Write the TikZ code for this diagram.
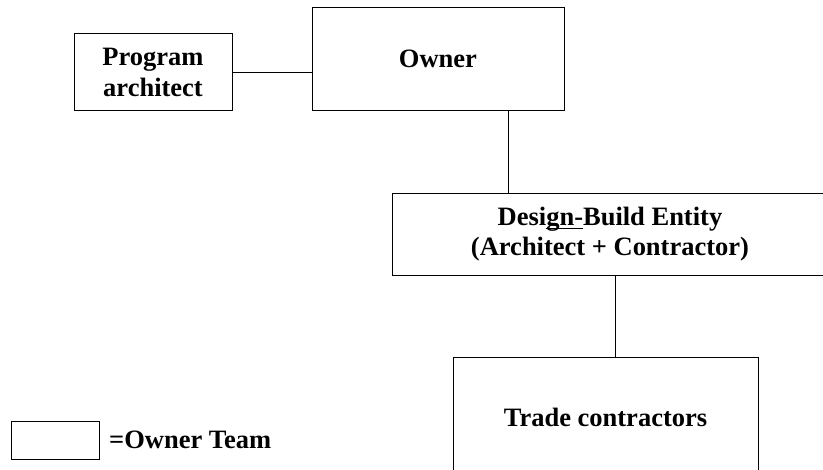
\documentclass[tikz,border=0pt]{standalone}
\usepackage{fontspec}
\setmainfont{Liberation Serif}
% underline drawn just under the baseline, through descenders
\newcommand\lowul[1]{\leavevmode\setbox0\hbox{#1}\rlap{\rule[-4pt]{\wd0}{1.1pt}}\box0}
\begin{document}
\begin{tikzpicture}[x=1pt,y=-1pt,
  box/.style={draw=black,line width=0.9pt,fill=white,inner sep=0pt,align=center,
    font=\fontsize{26.5}{31}\selectfont\bfseries},
  link/.style={draw=black,line width=0.9pt}]
\useasboundingbox (0,0) rectangle (823,470);
\fill[white] (0,0) rectangle (823,470);

\node[box,minimum width=158pt,minimum height=77pt] (prog) at (153,72) {Program\\architect};
\node[box,minimum width=252pt,minimum height=103pt] (owner) at (438,58.5) {Owner};
\node[box,minimum width=436pt,minimum height=82pt,font=\fontsize{26.5}{30}\selectfont\bfseries] (db) at (610,234)
  {Desi\lowul{gn-}Build Entity\\(Architect + Contractor)};
\node[box,minimum width=305pt,minimum height=120pt] (trade) at (605.5,417) {Trade contractors};

\node[draw=black,line width=0.8pt,minimum width=88pt,minimum height=38pt,inner sep=0pt] (key) at (55,440) {};
\node[anchor=west,inner sep=0pt,font=\fontsize{26.5}{31}\selectfont\bfseries] (keytext) at (109,440) {=Owner Team};

\draw[link] (prog.east) -- (prog.east -| owner.west);
\draw[link] ([xshift=70pt]owner.south) -- ([xshift=70pt]owner.south |- db.north);
\draw[link] ([xshift=9.5pt]trade.north) -- ([xshift=9.5pt]trade.north |- db.south);
\end{tikzpicture}
\end{document}
